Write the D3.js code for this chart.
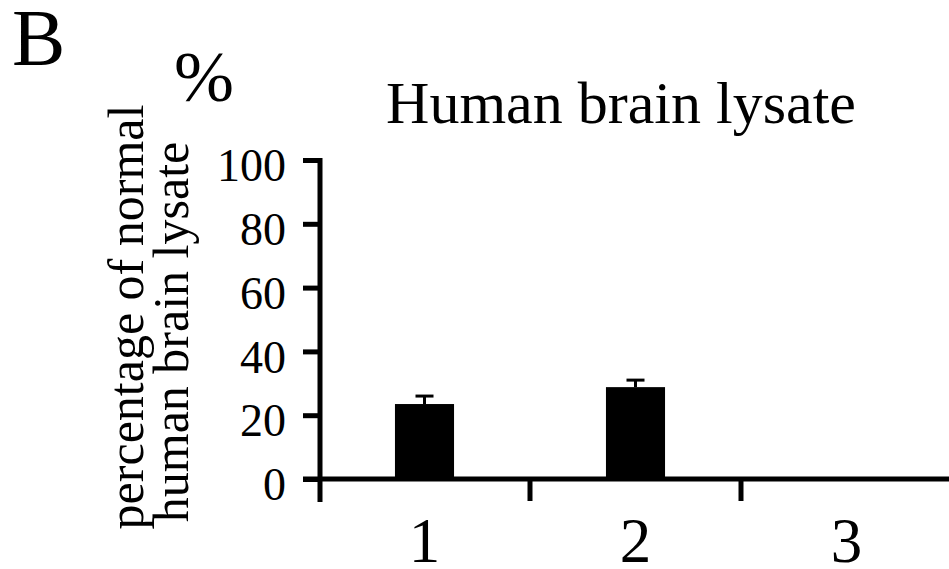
<!DOCTYPE html>
<html>
<head>
<meta charset="utf-8">
<script src="https://cdn.jsdelivr.net/npm/d3@7"></script>
<style>
  body { margin: 0; background: #fff; }
  text { font-family: "Liberation Serif", "Times New Roman", serif; fill: #000; }
</style>
</head>
<body>
<svg></svg>
<script>
var width = 949, height = 569;

// data
var categories = ["1", "2", "3"];
var values = [23.5, 28.8, 0];
var errors = [2.5, 2.2, 0];
var yTicks = [0, 20, 40, 60, 80, 100];

var svg = d3.select("svg").attr("width", width).attr("height", height);
svg.append("rect").attr("width", width).attr("height", height).style("fill", "#fff");

var x = d3.scaleBand().domain(categories).range([319, 952]).padding(0);
var y = d3.scaleLinear().domain([0, 100]).range([479, 160]);
var barW = x.bandwidth() * 0.28;

// panel letter, unit, title
svg.append("text").attr("x", 12).attr("y", 65).style("font-size", "80px").text("B");
svg.append("text").attr("x", 174).attr("y", 101).style("font-size", "72px").text("%");
svg.append("text").attr("x", 621).attr("y", 123).attr("text-anchor", "middle")
    .style("font-size", "60px").text("Human brain lysate");

// y axis label (two lines)
svg.append("text").attr("transform", "translate(143,317) rotate(-90)")
    .attr("text-anchor", "middle").style("font-size", "50px").text("percentage of normal");
svg.append("text").attr("transform", "translate(188,332) rotate(-90)")
    .attr("text-anchor", "middle").style("font-size", "50px").text("human brain lysate");

// bars
svg.selectAll(".bar")
    .data(categories)
    .enter().append("rect")
    .attr("class", "bar")
    .attr("x", function (d) { return x(d) + (x.bandwidth() - barW) / 2; })
    .attr("width", barW)
    .attr("y", function (d, i) { return y(values[i]); })
    .attr("height", function (d, i) { return y(0) - y(values[i]); })
    .style("fill", "#000");

// error bars
categories.forEach(function (c, i) {
    if (!errors[i]) return;
    var cx = x(c) + x.bandwidth() / 2;
    svg.append("line")
        .attr("x1", cx).attr("x2", cx)
        .attr("y1", y(values[i])).attr("y2", y(values[i] + errors[i]))
        .style("stroke", "#000").style("stroke-width", 3);
    svg.append("line")
        .attr("x1", cx - 9).attr("x2", cx + 9)
        .attr("y1", y(values[i] + errors[i])).attr("y2", y(values[i] + errors[i]))
        .style("stroke", "#000").style("stroke-width", 3);
});

// y axis
var gy = svg.append("g")
    .attr("transform", "translate(320,0)")
    .call(d3.axisLeft(y).tickValues(yTicks).tickSize(17).tickPadding(17));
gy.select(".domain").remove();
gy.selectAll(".tick line").style("stroke", "#000").style("stroke-width", 5);
gy.selectAll(".tick text").style("font-size", "46px").attr("dy", "0.45em")
    .style("font-family", "Liberation Serif, serif");
svg.append("line")
    .attr("x1", 320).attr("x2", 320)
    .attr("y1", y(100) - 2).attr("y2", 502)
    .style("stroke", "#000").style("stroke-width", 5);

// x axis
svg.append("line")
    .attr("x1", 303).attr("x2", width)
    .attr("y1", y(0)).attr("y2", y(0))
    .style("stroke", "#000").style("stroke-width", 5);
svg.selectAll(".xtick")
    .data(categories)
    .enter().append("line")
    .attr("class", "xtick")
    .attr("x1", function (d) { return x(d) + x.bandwidth(); })
    .attr("x2", function (d) { return x(d) + x.bandwidth(); })
    .attr("y1", y(0)).attr("y2", 501)
    .style("stroke", "#000").style("stroke-width", 5);
svg.selectAll(".xlabel")
    .data(categories)
    .enter().append("text")
    .attr("class", "xlabel")
    .attr("x", function (d) { return x(d) + x.bandwidth() / 2; })
    .attr("y", 562)
    .attr("text-anchor", "middle")
    .style("font-size", "63px")
    .text(function (d) { return d; });
</script>
</body>
</html>
